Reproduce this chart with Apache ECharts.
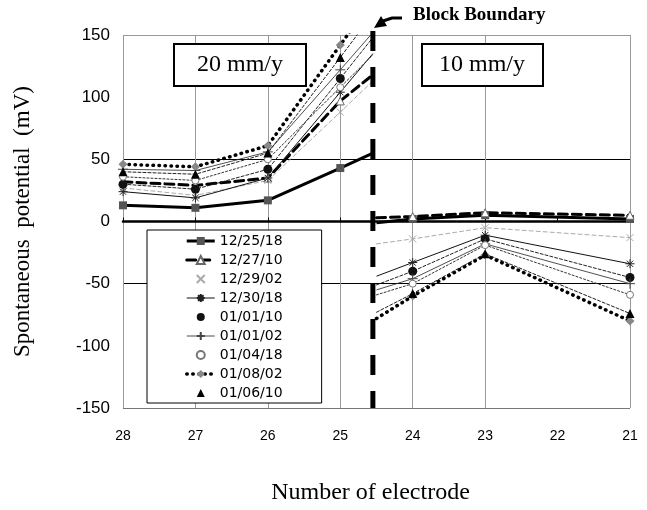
<!DOCTYPE html>
<html>
<head>
<meta charset="utf-8">
<script src="https://cdn.jsdelivr.net/npm/echarts@6/dist/echarts.min.js"></script>
<style>
  html, body { margin: 0; padding: 0; background: #fff; }
  #chart { width: 647px; height: 510px; }
</style>
</head>
<body>
<div id="chart"></div>
<script>
// Electrode positions: the 20 mm/y block on the left, the 10 mm/y block on the right
const leftElectrodes = [28, 27, 26, 25];
const rightElectrodes = [24, 23, 21];
const boundaryX = 24.55;      // block boundary between electrodes 25 and 24
const rightStartX = 24.5;     // right-hand lines resume just past the boundary
const xTicks = [21, 22, 23, 24, 25, 26, 27, 28];
const yTicks = [-150, -100, -50, 0, 50, 100, 150];

const seriesNames = ['12/25/18', '12/27/10', '12/29/02', '12/30/18', '01/01/10',
                     '01/01/02', '01/04/18', '01/08/02', '01/06/10'];
const legendOrder = ['12/25/18', '12/27/10', '12/29/02', '12/30/18', '01/01/10',
                     '01/01/02', '01/04/18', '01/08/02', '01/06/10'];

// Spontaneous potential (mV): values at electrodes 28,27,26,25 then at the boundary
const left_122518 = [13, 11, 17, 43, 55];
const left_122710 = [32, 29, 35, 97, 118];
const left_122902 = [27, 21, 33, 88, 113];
const left_123018 = [24, 19, 35, 104, 135];
const left_010110 = [30, 26, 42, 115, 148];
const left_010102 = [42, 41, 56, 122, 152];
const left_010418 = [36, 33, 50, 108, 134];
const left_010802 = [46, 44, 61, 142, 178];
const left_010610 = [40, 38, 55, 132, 167];

// Values just past the boundary, then at electrodes 24, 23, 21
const right_122518 = [-1, 2, 5, 2];
const right_122710 = [3, 4, 7, 5];
const right_122902 = [-18, -14, -5, -13];
const right_123018 = [-44, -33, -11, -34];
const right_010110 = [-51, -40, -14, -45];
const right_010102 = [-55, -46, -18, -50];
const right_010418 = [-59, -50, -19, -59];
const right_010802 = [-78, -60, -27, -80];
const right_010610 = [-73, -58, -26, -74];

const leftValues = [left_122518, left_122710, left_122902, left_123018, left_010110,
                    left_010102, left_010418, left_010802, left_010610];
const rightValues = [right_122518, right_122710, right_122902, right_123018, right_010110,
                     right_010102, right_010418, right_010802, right_010610];

// Marker shapes drawn as stroked paths
const CROSS = 'path://M0,0L10,10M10,0L0,10';
const STAR = 'path://M5,0L5,10M0,5L10,5M1.5,1.5L8.5,8.5M8.5,1.5L1.5,8.5';
const PLUS = 'path://M5,0L5,10M0,5L10,5';

const looks = [
  { symbol: 'rect', size: 8, fill: '#555', stroke: '#555', bw: 0, line: '#000', lw: 3, dash: 'solid', legendLine: true },
  { symbol: 'triangle', size: 8, fill: '#fff', stroke: '#666', bw: 1, line: '#000', lw: 3, dash: [9, 5], legendLine: true },
  { symbol: CROSS, size: 7, fill: 'none', stroke: '#aaa', bw: 1, line: '#aaa', lw: 1, dash: [4, 3], legendLine: false },
  { symbol: STAR, size: 9, fill: 'none', stroke: '#222', bw: 1, line: '#111', lw: 1, dash: 'solid', legendLine: true },
  { symbol: 'circle', size: 9, fill: '#111', stroke: '#111', bw: 0, line: '#222', lw: 1, dash: [3, 2], legendLine: false },
  { symbol: PLUS, size: 10, fill: 'none', stroke: '#444', bw: 1, line: '#222', lw: 0.8, dash: 'solid', legendLine: true },
  { symbol: 'circle', size: 7, fill: '#fff', stroke: '#777', bw: 1, line: '#333', lw: 1, dash: [2, 2], legendLine: false },
  { symbol: 'diamond', size: 9, fill: '#888', stroke: '#888', bw: 0, line: '#000', lw: 3.5, dash: [0.5, 5.5], legendLine: true },
  { symbol: 'triangle', size: 9, fill: '#000', stroke: '#000', bw: 0, line: '#222', lw: 1, dash: [3, 2], legendLine: false }
];

function buildData(leftVals, rightVals) {
  const data = [];
  leftElectrodes.forEach((x, i) => data.push([x, leftVals[i]]));
  data.push({ value: [boundaryX, leftVals[leftVals.length - 1]], symbol: 'none' });
  data.push([(boundaryX + rightStartX) / 2, null]);  // break the line at the boundary
  data.push({ value: [rightStartX, rightVals[0]], symbol: 'none' });
  rightElectrodes.forEach((x, i) => data.push([x, rightVals[i + 1]]));
  return data;
}

const series = seriesNames.map((name, i) => {
  const lk = looks[i];
  return {
    name: name,
    type: 'line',
    data: buildData(leftValues[i], rightValues[i]),
    connectNulls: false,
    symbol: lk.symbol,
    symbolSize: lk.size,
    showAllSymbol: true,
    clip: true,
    animation: false,
    itemStyle: { color: lk.fill, borderColor: lk.stroke, borderWidth: lk.bw },
    lineStyle: { color: lk.line, width: lk.lw, type: lk.dash, cap: lk.dash === 'solid' ? 'butt' : 'round' },
    emphasis: { disabled: true },
    z: 3
  };
});

const gridGray = '#999';
const chart = echarts.init(document.getElementById('chart'), null, { renderer: 'canvas' });
chart.setOption({
  backgroundColor: '#fff',
  animation: false,
  grid: { left: 123, right: 17, top: 35, bottom: 97, containLabel: false },
  xAxis: [
    {
      type: 'value', min: xTicks[0], max: xTicks[xTicks.length - 1], interval: 1, inverse: true,
      name: 'Number of electrode', nameLocation: 'middle', nameGap: 73,
      nameTextStyle: { fontFamily: 'Liberation Serif', fontSize: 24, color: '#000', padding: [0, 12, 0, 0] },
      axisLine: { show: false, onZero: false },
      axisTick: { show: false },
      axisLabel: { margin: 21, fontFamily: 'Liberation Sans', fontSize: 14, color: '#000' },
      // no grid line at electrode 22
      splitLine: { show: true, lineStyle: { color: [gridGray, 'rgba(0,0,0,0)', gridGray, gridGray, gridGray, gridGray, gridGray, gridGray], width: 1 } }
    },
    {
      type: 'value', min: xTicks[0], max: xTicks[xTicks.length - 1], interval: 1, inverse: true,
      position: 'bottom',
      axisLine: { show: true, onZero: true, onZeroAxisIndex: 0, lineStyle: { color: '#000', width: 2.5 } },
      axisTick: { show: true, inside: true, length: 4, lineStyle: { color: '#000', width: 1 } },
      axisLabel: { show: false },
      splitLine: { show: false }
    }
  ],
  yAxis: {
    type: 'value', min: yTicks[0], max: yTicks[yTicks.length - 1], interval: 50,
    name: 'Spontaneous  potential  (mV)', nameLocation: 'middle', nameGap: 89,
    nameTextStyle: { fontFamily: 'Liberation Serif', fontSize: 23, color: '#000' },
    axisLine: { show: false },
    axisTick: { show: false },
    axisLabel: { margin: 13, fontFamily: 'Liberation Sans', fontSize: 17, color: '#000' },
    // grid lines only at -150, -50, 0, 50, 150
    splitLine: { show: true, lineStyle: { color: ['#777', 'rgba(0,0,0,0)', '#000', '#000', '#000', 'rgba(0,0,0,0)', gridGray], width: 1 } }
  },
  legend: {
    orient: 'vertical',
    left: 147, top: 230,
    padding: [4, 39, 3, 38],
    itemWidth: 28, itemHeight: 10, itemGap: 5,
    backgroundColor: '#fff',
    borderColor: '#000', borderWidth: 1,
    selectedMode: false,
    textStyle: { fontFamily: 'DejaVu Sans', fontSize: 14, color: '#000', lineHeight: 14 },
    data: legendOrder.map(n => {
      const lk = looks[seriesNames.indexOf(n)];
      return lk.legendLine
        ? { name: n, lineStyle: { width: lk.lw, type: lk.dash, color: lk.line, cap: lk.dash === 'solid' ? 'butt' : 'round' } }
        : { name: n, lineStyle: { opacity: 0 } };
    }),
    z: 10
  },
  series: series
});

// Thick dashed block-boundary line, placed through the axis scale; it starts a little above the plot
const bx = chart.convertToPixel({ xAxisIndex: 0 }, boundaryX);
const yBottom = chart.convertToPixel({ yAxisIndex: 0 }, yTicks[0]);

chart.setOption({
  graphic: [
    {
      id: 'boundaryLine', type: 'line', z: 15, silent: true,
      shape: { x1: bx, y1: 31, x2: bx, y2: yBottom },
      style: { stroke: '#000', lineWidth: 5, lineDash: [20, 16], fill: null }
    },
    {
      id: 'rate20', type: 'group', left: 173, top: 43, z: 20,
      children: [
        { type: 'rect', shape: { x: 0, y: 0, width: 132, height: 42 }, style: { fill: '#fff', stroke: '#000', lineWidth: 2 } },
        { type: 'text', x: 66, y: 21, style: { text: '20 mm/y', font: '24px "Liberation Serif"', fill: '#000', align: 'center', verticalAlign: 'middle' } }
      ]
    },
    {
      id: 'rate10', type: 'group', left: 421, top: 43, z: 20,
      children: [
        { type: 'rect', shape: { x: 0, y: 0, width: 121, height: 42 }, style: { fill: '#fff', stroke: '#000', lineWidth: 2 } },
        { type: 'text', x: 60, y: 21, style: { text: '10 mm/y', font: '24px "Liberation Serif"', fill: '#000', align: 'center', verticalAlign: 'middle' } }
      ]
    },
    {
      id: 'boundaryText', type: 'text', left: 413, top: 6, z: 20,
      style: { text: 'Block Boundary', font: 'bold 19px "Liberation Serif"', fill: '#000' }
    },
    {
      id: 'arrowShaft', type: 'polyline', z: 20,
      shape: { points: [[402, 18], [392, 18], [383, 21]] },
      style: { stroke: '#000', lineWidth: 3, fill: null }
    },
    {
      id: 'arrowHead', type: 'polygon', z: 20,
      shape: { points: [[374, 28], [381, 16], [387, 26]] },
      style: { fill: '#000' }
    }
  ]
});
</script>
</body>
</html>
